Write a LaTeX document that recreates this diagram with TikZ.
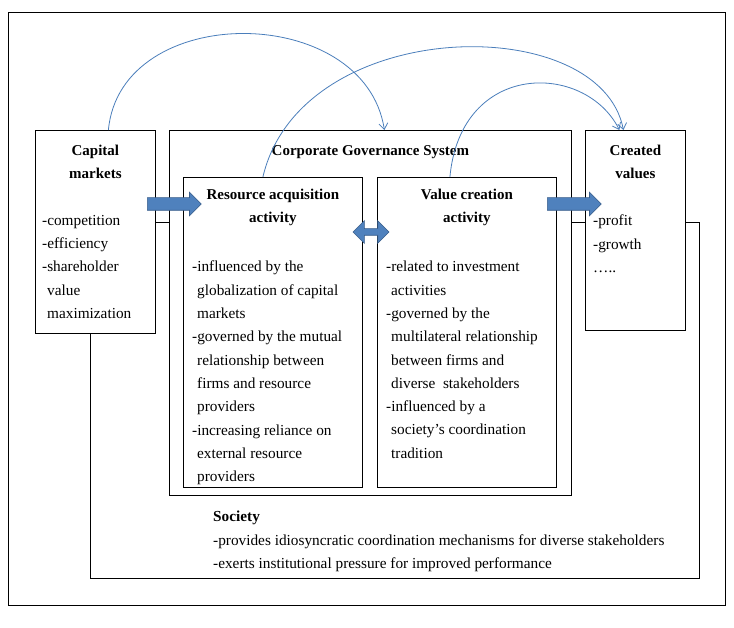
\documentclass[tikz,border=0pt]{standalone}
\usepackage{fontspec}
\setmainfont{Liberation Serif}
\usetikzlibrary{arrows.meta,shapes.arrows,positioning}

\definecolor{blockblue}{HTML}{4F81BD}
\definecolor{blockedge}{HTML}{385D8A}
\definecolor{curveblue}{HTML}{4A7EBB}
\newcommand{\ind}{\hspace*{5pt}}

\tikzset{
  box/.style={draw, line width=0.8pt, fill=white, inner sep=0pt, anchor=north west},
  txt/.style={inner sep=0pt, font=\fontsize{15.3}{23.3}\selectfont, align=left},
  head/.style={inner sep=0pt, font=\fontsize{15}{23}\selectfont\bfseries, align=center},
  blockarrow/.style={single arrow, draw=blockedge, fill=blockblue, line width=0.6pt,
    inner sep=6pt, single arrow head extend=5.5pt, minimum height=54pt, anchor=tail},
  curve/.style={draw=curveblue, line width=0.8pt, -{Straight Barb[length=6pt,width=9pt]}}
}

\begin{document}
\begin{tikzpicture}[x=1pt,y=-1pt]
    \useasboundingbox (0,0) rectangle (734,628);
    \node[box, minimum width=717, minimum height=593] (frame) at (8,12) {};
    \node[box, minimum width=609, minimum height=356] (society) at (90,222) {};

    \node[box, minimum width=120, minimum height=203] (capital) at (35,130) {};
    \node[box, minimum width=402, minimum height=365] (cgs) at (169,130) {};
    \node[box, minimum width=100, minimum height=200] (created) at (585,130) {};
    \node[box, minimum width=179, minimum height=310] (resource) at (183,177) {};
    \node[box, minimum width=179, minimum height=310] (value) at (377,177) {};

    % titles
    \node[head, anchor=north] (captitle) at ([yshift=-15pt]capital.north) {Capital\\markets};
    \node[head, anchor=north] (cgstitle) at ([yshift=-15pt]cgs.north) {Corporate Governance System};
    \node[head, anchor=north] (restitle) at ([yshift=-12pt]resource.north) {Resource acquisition\\activity};
    \node[head, anchor=north] (valtitle) at ([yshift=-12pt]value.north) {Value creation\\activity};
    \node[head, anchor=north] (cretitle) at ([yshift=-15pt]created.north) {Created\\values};

    % lists
    \node[txt, anchor=north west] (caplist) at (42,215)
        {-competition\\-efficiency\\-shareholder\\\ind value\\\ind maximization};
    \node[txt, anchor=north west] (reslist) at (192,261)
        {-influenced by the\\\ind globalization of capital\\\ind markets\\-governed by the mutual\\\ind relationship between\\\ind firms and resource\\\ind providers\\-increasing reliance on\\\ind external resource\\\ind providers};
    \node[txt, anchor=north west] (vallist) at (386,261)
        {-related to investment\\\ind activities\\-governed by the\\\ind multilateral relationship\\\ind between firms and\\\ind diverse~ stakeholders\\-influenced by a\\\ind society’s coordination\\\ind tradition};
    \node[txt, anchor=north west] (crelist) at (593,215) {-profit\\-growth\\…..};
    \node[txt, anchor=north west] (soclist) at (213,511)
        {\textbf{Society}\\-provides idiosyncratic coordination mechanisms for diverse stakeholders\\-exerts institutional pressure for improved performance};

    % block arrows
    \node[blockarrow] (capin) at (147,204) {};
    \node[blockarrow] (valout) at (547,204) {};
    \node[double arrow, draw=blockedge, fill=blockblue, line width=0.6pt, inner sep=3pt,
        double arrow head extend=8pt, minimum height=36pt] (link) at (371,232) {};

    % curved arrows
    \draw[curve] ([xshift=13pt]capital.north) .. controls +(12,-129) and +(-20,-128) .. ([xshift=14pt]cgs.north);
    \draw[curve] ([xshift=-10pt]resource.north) .. controls +(38,-162) and +(-23,-120) .. ([xshift=-12pt]created.north);
    \draw[curve] ([xshift=-17pt]value.north) .. controls +(11,-117) and +(-34,-68) .. ([xshift=-16pt]created.north);
\end{tikzpicture}
\end{document}
